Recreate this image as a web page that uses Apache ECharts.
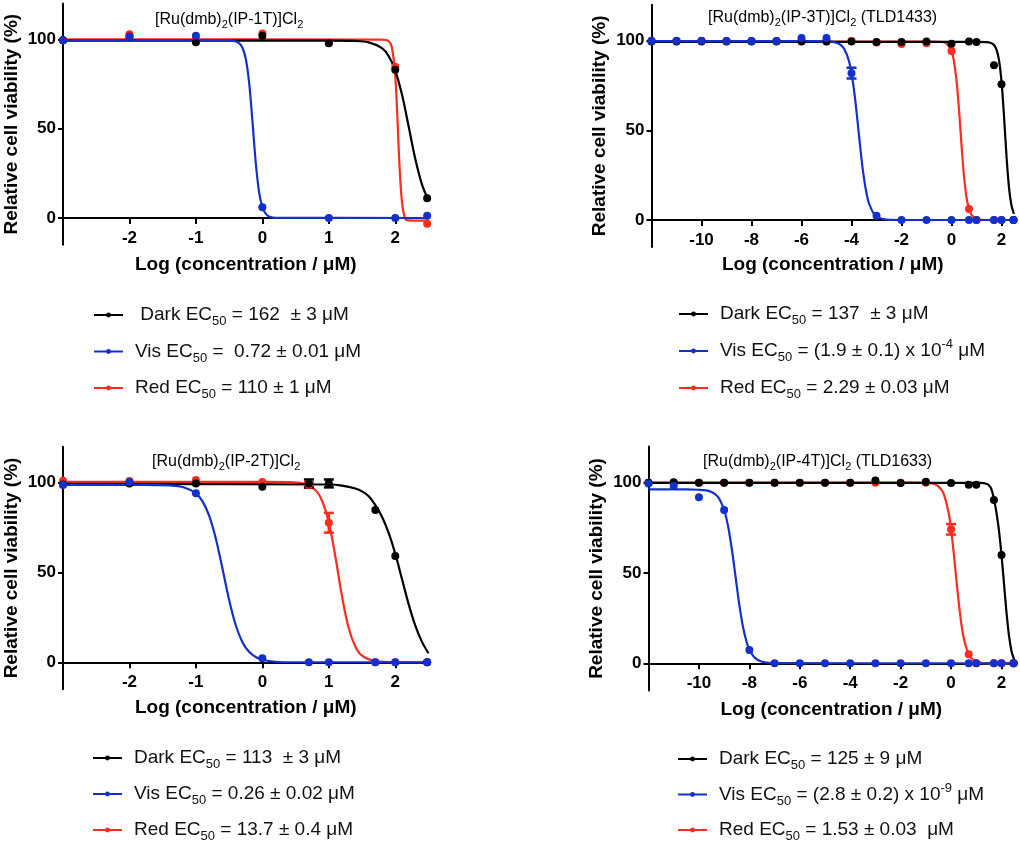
<!DOCTYPE html>
<html><head><meta charset="utf-8">
<script src="https://cdn.jsdelivr.net/npm/echarts@6/dist/echarts.min.js"></script>
<style>html,body{margin:0;padding:0;background:#fff}#c{width:1020px;height:845px}</style>
</head><body><div id="c"></div>
<script>
// ---------------- DATA ----------------
// Panel 1: [Ru(dmb)2(IP-1T)]Cl2
const p1X = [-3, -2, -1, 0, 1, 2, 2.48];
const p1Dark = [99.5, 101.5, 98.3, 102, 97.8, 83, 11];
const p1Vis = [99.5, 101.5, 102, 6, 0, 0, 1.3];
const p1Red = [99.5, 102.8, 100, 103.3, 98, 84.7, -3.2];
const p1DarkFit = [[-3,99.3],[1,99.3],[1.4,99.1],[1.6,98.3],[1.8,95.1],[1.9,90.7],[2,82.5],[2.1,69.2],[2.2,51.5],[2.3,33.3],[2.4,19],[2.5,9.9]];
const p1VisFit = [[-3,99.5],[-0.6,99.5],[-0.45,99.3],[-0.35,97.9],[-0.3,95.3],[-0.25,89.2],[-0.2,76],[-0.15,54.6],[-0.1,31.2],[-0.05,14.6],[0,6],[0.05,2.4],[0.1,0.9],[0.2,0.1],[2.5,0]];
const p1RedFit = [[-3,100],[1.8,99.8],[1.9,99],[1.95,95.4],[2,79.4],[2.03,57.6],[2.06,32],[2.1,9.4],[2.15,-0.5],[2.2,-1.3],[2.5,-1.5]];
const p1XTicks = [-2, -1, 0, 1, 2];
const p1Title = '[Ru(dmb){s|2}(IP-1T)]Cl{s|2}';
const p1Labels = [' Dark EC{s|50} = 162  \u00b1 3 \u03bcM', 'Vis EC{s|50} =  0.72 \u00b1 0.01 \u03bcM', 'Red EC{s|50} = 110 \u00b1 1 \u03bcM'];

// Panel 2: [Ru(dmb)2(IP-3T)]Cl2 (TLD1433)
const p2X = [-12, -11, -10, -9, -8, -7, -6, -5, -4, -3, -2, -1, 0, 0.7, 1, 1.7, 2, 2.48];
const p2Dark = [99.6, 99.6, 99.6, 99.6, 99.6, 99.6, 99.6, 99.6, 99.6, 99.3, 99.3, 99.6, 98.3, 99.6, 99.3, 86.3, 75.7, 0];
const p2Vis = [100, 100, 100, 99.8, 99.8, 99.8, 101.5, 101.5, 81.9, 2.4, 0, 0, 0, 0, 0, 0, 0, 0];
const p2Red = [99.8, 99.8, 99.8, 99.8, 99.8, 99.8, 99.8, 99.8, 99.8, 99, 98.2, 98.6, 94.2, 6.1, 0, 0, 0, 0];
const p2DarkFit = [[-12,99.3],[1,99.3],[1.4,99.2],[1.6,98.6],[1.7,97.6],[1.8,95],[1.9,89.2],[2,77.4],[2.1,58],[2.2,35.6],[2.3,18.1],[2.4,8.1],[2.5,3.4]];
const p2VisFit = [[-12,99.7],[-5.5,99.7],[-5,99.6],[-4.7,99.2],[-4.5,98.3],[-4.3,95.6],[-4.1,88.5],[-3.95,77.5],[-3.85,66.8],[-3.72,49.9],[-3.6,34.1],[-3.5,23.2],[-3.4,14.9],[-3.3,9.2],[-3.1,3.3],[-2.9,1.2],[-2.6,0.2],[-2,0],[2.5,0]];
const p2RedFit = [[-12,99.5],[-1,99.5],[-0.5,99.4],[-0.2,98.4],[0,94.2],[0.1,88.4],[0.2,77.8],[0.3,61.5],[0.36,49.8],[0.4,41.9],[0.5,24.5],[0.6,12.7],[0.7,6.2],[0.8,2.9],[1,0.6],[1.2,0.1],[2.5,0]];
const p2VisErr = [[-4, 81.9, 3]];
const p2XTicks = [-10, -8, -6, -4, -2, 0, 2];
const p2Title = '[Ru(dmb){s|2}(IP-3T)]Cl{s|2} (TLD1433)';
const p2Labels = ['Dark EC{s|50} = 137  \u00b1 3 \u03bcM', 'Vis EC{s|50} = (1.9 \u00b1 0.1) x 10{p|-4} \u03bcM', 'Red EC{s|50} = 2.29 \u00b1 0.03 \u03bcM'];

// Panel 3: [Ru(dmb)2(IP-2T)]Cl2
const p3X = [-3, -2, -1, 0, 0.7, 1, 1.7, 2, 2.48];
const p3Dark = [99, 99.6, 99.6, 97.8, 99.6, 99.6, 84.8, 59.2, 0];
const p3Vis = [98.7, 100.4, 94.1, 2.2, 0, 0, 0, 0, 0];
const p3Red = [101.1, 101, 101.5, 100.4, 98.7, 77.7, 0, 0, 0];
const p3DarkFit = [[-3,99.3],[1,99],[1.2,98.4],[1.4,96.8],[1.5,95.2],[1.6,92.5],[1.7,87.5],[1.8,81],[1.9,72],[2,60.5],[2.1,46.5],[2.2,32.5],[2.3,20.5],[2.4,11.5],[2.5,5]];
const p3VisFit = [[-3,98.8],[-2,98.8],[-1.6,98.7],[-1.4,98.5],[-1.2,97.6],[-1,94.1],[-0.9,89.6],[-0.8,81.5],[-0.7,68.8],[-0.6,52.1],[-0.5,34.7],[-0.4,20.6],[-0.3,11.2],[-0.2,5.8],[-0.1,2.9],[0,1.4],[0.2,0.3],[0.5,0],[2.5,0]];
const p3RedFit = [[-3,100.5],[0,100.5],[0.4,100.4],[0.6,99.7],[0.8,95.8],[0.9,89.8],[1,77.8],[1.1,58.5],[1.2,36.4],[1.3,18.9],[1.4,8.7],[1.5,3.7],[1.7,0.6],[2,0],[2.5,0]];
const p3DarkErr = [[0.7, 99.6, 2.2], [1, 99.6, 2.2]];
const p3RedErr = [[0.7, 98.7, 1.5], [1, 77.7, 5.5]];
const p3XTicks = [-2, -1, 0, 1, 2];
const p3Title = '[Ru(dmb){s|2}(IP-2T)]Cl{s|2}';
const p3Labels = ['Dark EC{s|50} = 113  \u00b1 3 \u03bcM', 'Vis EC{s|50} = 0.26 \u00b1 0.02 \u03bcM', 'Red EC{s|50} = 13.7 \u00b1 0.4 \u03bcM'];

// Panel 4: [Ru(dmb)2(IP-4T)]Cl2 (TLD1633)
const p4X = [-12, -11, -10, -9, -8, -7, -6, -5, -4, -3, -2, -1, 0, 0.7, 1, 1.7, 2, 2.48];
const p4Dark = [100, 100.3, 100, 100, 100, 100, 100, 100, 100, 101.2, 99.8, 100.6, 99.8, 98.9, 98.9, 90.4, 60, 0];
const p4Vis = [99.6, 98.2, 91.9, 84.9, 7.4, 0, 0, 0, 0, 0, 0, 0, 0, 0, 0, 0, 0, 0];
const p4Red = [100, 100, 100, 100, 100, 100, 100, 100, 100, 100, 100, 100, 74.2, 5, 0, 0, 0, 0];
const p4DarkFit = [[-12,99.9],[1.2,99.9],[1.4,99.4],[1.5,98.6],[1.6,96.5],[1.7,91],[1.8,83.5],[1.9,73.5],[2,60],[2.1,44],[2.2,28],[2.3,15],[2.4,6.5],[2.5,2]];
const p4VisFit = [[-12,96.3],[-10.5,96.3],[-10,96.1],[-9.75,95.8],[-9.5,94.9],[-9.25,92.3],[-9,84.9],[-8.85,76.3],[-8.7,63.7],[-8.55,48.2],[-8.4,32.6],[-8.25,20],[-8.1,11.4],[-8,7.6],[-7.8,3.3],[-7.5,0.9],[-7,0.1],[2.5,0]];
const p4RedFit = [[-12,100],[-1.5,100],[-1,99.9],[-0.7,99.4],[-0.5,98],[-0.3,94.1],[-0.1,83.6],[0,74.2],[0.1,61.9],[0.185,50],[0.3,34.1],[0.4,22.7],[0.5,14.2],[0.7,5],[0.9,1.7],[1.2,0.3],[1.5,0],[2.5,0]];
const p4RedErr = [[0, 74.2, 2.9]];
const p4XTicks = [-10, -8, -6, -4, -2, 0, 2];
const p4Title = '[Ru(dmb){s|2}(IP-4T)]Cl{s|2} (TLD1633)';
const p4Labels = ['Dark EC{s|50} = 125 \u00b1 9 \u03bcM', 'Vis EC{s|50} = (2.8 \u00b1 0.2) x 10{p|-9} \u03bcM', 'Red EC{s|50} = 1.53 \u00b1 0.03  \u03bcM'];

const yTicks = [0, 50, 100];
const Y_MIN = -15, Y_MAX = 120;
const xName = 'Log (concentration / \u03bcM)';
const yName = 'Relative cell viability (%)';

// ---------------- LAYOUT / STYLE ----------------
const FONT = '"Liberation Sans", Arial, Helvetica, sans-serif';
const COLORS = { Dark: '#000000', Vis: '#1430cc', Red: '#ff2b1c' };

const panels = [
  { id: 'p1', x: p1X, pts: { Dark: p1Dark, Vis: p1Vis, Red: p1Red }, fit: { Dark: p1DarkFit, Vis: p1VisFit, Red: p1RedFit }, err: {},
    xMin: -3, xTicks: p1XTicks, title: p1Title, labels: p1Labels,
    grid: { left: 63, top: 3.6, width: 365.5, height: 241.2 }, titlePos: { left: 155, top: 10 },
    legendPos: { left: 93, top: 302, gap: 10.5 }, xNameGap: 37.5 },
  { id: 'p2', x: p2X, pts: { Dark: p2Dark, Vis: p2Vis, Red: p2Red }, fit: { Dark: p2DarkFit, Vis: p2VisFit, Red: p2RedFit }, err: { Vis: p2VisErr },
    xMin: -12, xTicks: p2XTicks, title: p2Title, labels: p2Labels,
    grid: { left: 651.5, top: 4.8, width: 362.5, height: 242.1 }, titlePos: { left: 708, top: 8 },
    legendPos: { left: 678, top: 301, gap: 11 }, xNameGap: 35.5 },
  { id: 'p3', x: p3X, pts: { Dark: p3Dark, Vis: p3Vis, Red: p3Red }, fit: { Dark: p3DarkFit, Vis: p3VisFit, Red: p3RedFit }, err: { Dark: p3DarkErr, Red: p3RedErr },
    xMin: -3, xTicks: p3XTicks, title: p3Title, labels: p3Labels,
    grid: { left: 63, top: 446.8, width: 365.5, height: 242.4 }, titlePos: { left: 152, top: 452 },
    legendPos: { left: 92, top: 745, gap: 10 }, xNameGap: 35.5 },
  { id: 'p4', x: p4X, pts: { Dark: p4Dark, Vis: p4Vis, Red: p4Red }, fit: { Dark: p4DarkFit, Vis: p4VisFit, Red: p4RedFit }, err: { Red: p4RedErr },
    xMin: -12, xTicks: p4XTicks, title: p4Title, labels: p4Labels,
    grid: { left: 648.5, top: 446.6, width: 365.6, height: 243.8 }, titlePos: { left: 703, top: 452 },
    legendPos: { left: 677, top: 746, gap: 9.5 }, xNameGap: 37 }
];

const option = { animation: false, backgroundColor: '#ffffff', grid: [], xAxis: [], yAxis: [], title: [], legend: [], series: [] };
const labelMap = {};

panels.forEach((p, i) => {
  option.grid.push(Object.assign({ containLabel: false, outerBoundsMode: 'none' }, p.grid));
  // shift the x axis up so that it sits on y = 0
  const zeroOffset = -p.grid.height * (0 - Y_MIN) / (Y_MAX - Y_MIN);
  option.xAxis.push({
    gridIndex: i, type: 'value', min: p.xMin, max: 2.5, position: 'bottom', offset: zeroOffset,
    axisLine: { show: true, onZero: false, lineStyle: { color: '#000', width: 2 } },
    axisTick: { show: true, customValues: p.xTicks, length: 6, lineStyle: { color: '#000', width: 2 } },
    axisLabel: { customValues: p.xTicks, margin: 12, color: '#000', fontFamily: FONT, fontSize: 17, fontWeight: 'bold' },
    splitLine: { show: false },
    name: xName, nameLocation: 'middle', nameGap: p.xNameGap,
    nameTextStyle: { color: '#000', fontFamily: FONT, fontSize: 19, fontWeight: 'bold' }
  });
  option.yAxis.push({
    gridIndex: i, type: 'value', min: Y_MIN, max: Y_MAX,
    axisLine: { show: true, onZero: false, lineStyle: { color: '#000', width: 2 } },
    axisTick: { show: true, customValues: yTicks, length: 5, lineStyle: { color: '#000', width: 2 } },
    axisLabel: { customValues: yTicks, margin: 7, color: '#000', fontFamily: FONT, fontSize: 17, fontWeight: 'bold' },
    splitLine: { show: false },
    name: yName, nameLocation: 'middle', nameGap: 42,
    nameTextStyle: { color: '#000', fontFamily: FONT, fontSize: 19, fontWeight: 'bold' }
  });
  option.title.push({
    text: p.title, left: p.titlePos.left, top: p.titlePos.top, padding: 0,
    textStyle: { fontFamily: FONT, fontSize: 16, fontWeight: 'normal', color: '#000', lineHeight: 20,
      rich: { s: { fontFamily: FONT, fontSize: 11, lineHeight: 11, verticalAlign: 'bottom', color: '#000' } } }
  });
  const names = ['Dark', 'Vis', 'Red'].map(k => p.id + '-' + k);
  names.forEach((n, j) => { labelMap[n] = p.labels[j]; });
  option.legend.push({
    orient: 'vertical', left: p.legendPos.left, top: p.legendPos.top, padding: 0,
    itemWidth: 29, itemHeight: 6, itemGap: p.legendPos.gap, selectedMode: false,
    data: names,
    formatter: n => labelMap[n],
    textStyle: { fontFamily: FONT, fontSize: 19, color: '#111', lineHeight: 26, padding: [0, 0, 0, 7],
      rich: {
        s: { fontFamily: FONT, fontSize: 13, lineHeight: 13, verticalAlign: 'bottom', color: '#111' },
        p: { fontFamily: FONT, fontSize: 13, lineHeight: 13, verticalAlign: 'top', color: '#111' }
      } }
  });
  // draw order: Red (bottom), Dark, Vis (top)
  ['Red', 'Dark', 'Vis'].forEach(k => {
    const color = COLORS[k];
    option.series.push({
      name: p.id + '-' + k, type: 'line', xAxisIndex: i, yAxisIndex: i,
      data: p.fit[k], symbol: 'none', smooth: 0.35,
      lineStyle: { color: color, width: 2.2 }, itemStyle: { color: color }, silent: true, z: 2
    });
    if (p.err[k]) {
      option.series.push({
        name: p.id + '-' + k + '-err', type: 'custom', xAxisIndex: i, yAxisIndex: i,
        data: p.err[k], encode: { x: 0, y: 1 }, silent: true, z: 3,
        renderItem: (params, api) => {
          const x = api.value(0), y = api.value(1), e = api.value(2);
          const t = api.coord([x, y + e]), b = api.coord([x, y - e]);
          const w = 5, st = { stroke: color, lineWidth: 2.5 };
          return { type: 'group', children: [
            { type: 'line', shape: { x1: t[0], y1: t[1], x2: b[0], y2: b[1] }, style: st },
            { type: 'line', shape: { x1: t[0] - w, y1: t[1], x2: t[0] + w, y2: t[1] }, style: st },
            { type: 'line', shape: { x1: b[0] - w, y1: b[1], x2: b[0] + w, y2: b[1] }, style: st }
          ] };
        }
      });
    }
    option.series.push({
      name: p.id + '-' + k + '-pts', type: 'scatter', xAxisIndex: i, yAxisIndex: i,
      data: p.x.map((xv, j) => [xv, p.pts[k][j]]),
      symbol: 'circle', symbolSize: 8, itemStyle: { color: color, opacity: 1 }, silent: true, z: 3
    });
  });
});

const chart = echarts.init(document.getElementById('c'), null, { renderer: 'canvas' });
chart.setOption(option);
</script>
</body></html>
